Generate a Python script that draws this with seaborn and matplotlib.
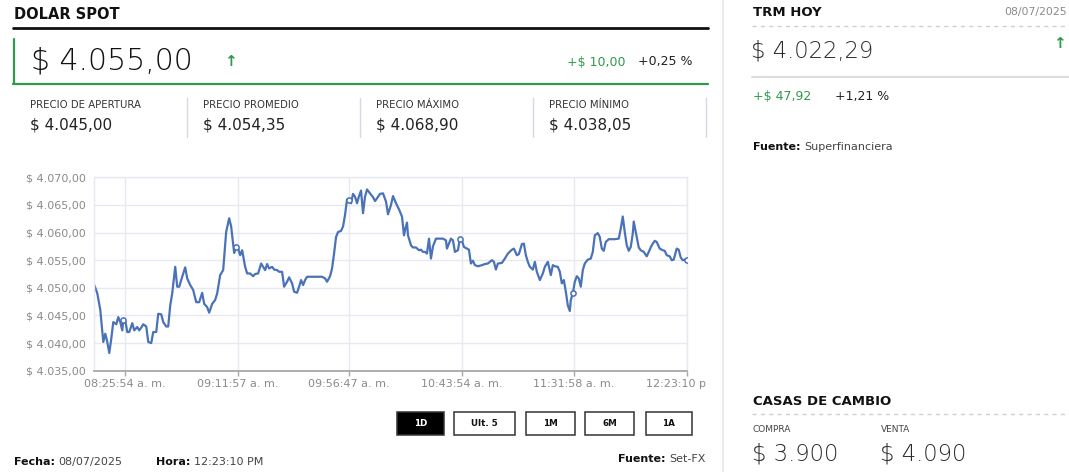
import pandas as pd
import seaborn as sns
import matplotlib
matplotlib.use("Agg")
import matplotlib.pyplot as plt
from matplotlib.lines import Line2D
from matplotlib.patches import Rectangle
from matplotlib.transforms import Bbox, TransformedBbox

# serie intradia del dolar spot (indice de punto, precio)
indice = [0, 3, 6, 9, 11, 13, 15, 17, 19, 22, 24, 26, 28, 29, 31, 33, 35, 38, 40, 43,
          45, 47, 49, 52, 54, 57, 59, 62, 64, 67, 69, 72, 74, 76, 78, 81, 83, 85, 88, 91,
          93, 96, 99, 102, 105, 108, 110, 113, 115, 118, 121, 123, 126, 129, 132, 135, 137, 140, 142, 144,
          146, 148, 151, 153, 156, 159, 161, 164, 167, 169, 171, 173, 175, 178, 180, 183, 185, 188, 190, 193,
          195, 198, 200, 203, 205, 207, 209, 211, 213, 218, 223, 228, 231, 233, 236, 238, 240, 242, 244, 247,
          249, 251, 253, 255, 257, 259, 261, 263, 265, 267, 269, 271, 273, 276, 279, 281, 283, 286, 289, 292,
          294, 297, 299, 302, 305, 308, 310, 311, 313, 314, 317, 319, 322, 325, 327, 329, 331, 333, 335, 337,
          339, 342, 346, 349, 352, 353, 355, 357, 359, 361, 364, 366, 368, 370, 373, 375, 377, 379, 381, 384,
          388, 391, 394, 398, 400, 402, 404, 408, 411, 414, 418, 420, 423, 425, 428, 430, 432, 434, 436, 439,
          441, 443, 446, 449, 451, 454, 457, 459, 461, 464, 466, 468, 470, 472, 474, 476, 477, 479, 481, 483,
          485, 487, 489, 491, 494, 497, 499, 501, 504, 506, 508, 510, 512, 515, 518, 521, 525, 527, 529, 531,
          533, 535, 537, 539, 540, 543, 545, 547, 550, 553, 555, 558, 561, 563, 566, 569, 571, 573, 576, 578,
          580, 583, 585, 587, 589, 591, 593]
precio = [4050.5, 4049.0, 4046.0, 4040.2, 4041.7, 4040.2, 4038.2, 4040.8, 4043.8, 4043.4,
          4044.7, 4043.8, 4042.3, 4044.1, 4044.1, 4042.0, 4042.0, 4043.6, 4042.3, 4042.9,
          4042.3, 4042.8, 4043.4, 4043.0, 4040.2, 4040.0, 4042.0, 4042.0, 4045.3, 4045.2,
          4043.8, 4043.0, 4043.0, 4046.8, 4049.0, 4053.8, 4050.2, 4050.2, 4052.0, 4053.7,
          4051.7, 4050.5, 4049.6, 4047.4, 4047.4, 4049.1, 4047.1, 4046.5, 4045.5, 4047.1,
          4047.8, 4049.0, 4052.3, 4053.2, 4060.1, 4062.6, 4061.1, 4056.3, 4057.3, 4057.1,
          4055.9, 4056.8, 4053.8, 4052.6, 4052.6, 4052.1, 4052.5, 4052.6, 4054.4, 4053.8,
          4053.2, 4054.3, 4053.5, 4053.8, 4053.3, 4053.2, 4052.9, 4052.9, 4050.2, 4051.1,
          4051.9, 4050.8, 4049.3, 4049.1, 4050.2, 4051.4, 4050.5, 4051.4, 4052.0, 4052.0,
          4052.0, 4052.0, 4051.7, 4051.1, 4052.1, 4053.5, 4056.2, 4059.2, 4060.1, 4060.3,
          4061.1, 4063.2, 4066.0, 4065.9, 4065.3, 4067.0, 4066.5, 4065.3, 4066.6, 4067.6,
          4063.5, 4066.5, 4067.8, 4067.1, 4066.4, 4065.7, 4066.2, 4067.0, 4067.1, 4065.6,
          4063.3, 4065.0, 4066.6, 4065.3, 4064.2, 4062.9, 4059.5, 4060.4, 4061.8, 4059.5,
          4057.7, 4057.3, 4057.3, 4056.8, 4056.9, 4056.5, 4056.5, 4056.2, 4058.9, 4055.3,
          4057.5, 4058.9, 4058.9, 4058.9, 4058.6, 4057.1, 4058.0, 4058.9, 4058.6, 4056.5,
          4056.8, 4058.9, 4058.6, 4057.4, 4057.1, 4056.9, 4054.4, 4054.9, 4054.1, 4053.9,
          4054.1, 4054.3, 4054.4, 4055.0, 4054.7, 4053.3, 4054.4, 4054.5, 4055.3, 4056.2,
          4056.9, 4057.1, 4055.9, 4056.1, 4057.9, 4058.0, 4055.9, 4054.7, 4053.8, 4053.3,
          4054.7, 4052.9, 4051.4, 4052.6, 4053.8, 4054.7, 4052.3, 4054.1, 4053.9, 4053.8,
          4052.9, 4050.8, 4051.4, 4049.3, 4046.8, 4045.8, 4047.8, 4049.0, 4051.1, 4052.1,
          4051.7, 4050.2, 4053.2, 4054.4, 4055.1, 4055.3, 4056.5, 4059.5, 4059.9, 4059.2,
          4057.1, 4056.7, 4058.3, 4058.8, 4058.8, 4058.8, 4058.9, 4060.7, 4062.9, 4060.1,
          4057.7, 4056.7, 4057.4, 4059.8, 4062.0, 4059.2, 4057.3, 4056.8, 4056.5, 4055.7,
          4056.5, 4057.7, 4058.5, 4058.3, 4057.1, 4056.8, 4056.7, 4055.9, 4055.7, 4055.0,
          4055.1, 4057.1, 4056.9, 4055.5, 4055.0, 4055.1, 4055.0]

marcadores = [29, 142, 255, 366, 479, 593]
tick_pos = [31, 144, 255, 368, 480, 593]
tick_labels = ["08:25:54 a. m.", "09:11:57 a. m.", "09:56:47 a. m.",
               "10:43:54 a. m.", "11:31:58 a. m.", "12:23:10 p. m."]
y_ticks = [4035, 4040, 4045, 4050, 4055, 4060, 4065, 4070]

resumen_titulos = ["PRECIO DE APERTURA", "PRECIO PROMEDIO", "PRECIO MÁXIMO", "PRECIO MÍNIMO"]
resumen_valores = ["$ 4.045,00", "$ 4.054,35", "$ 4.068,90", "$ 4.038,05"]
botones = ["1D", "Ult. 5", "1M", "6M", "1A"]

df = pd.DataFrame({"indice": indice, "precio": precio})

W, H = 1069, 472
VERDE = "#2f9a4a"
AZUL = "#4a72b8"
OSCURO = "#222222"

sns.set_theme(style="white")
plt.rcParams["font.family"] = ["DejaVu Sans"]

fig = plt.figure(figsize=(W / 100, H / 100), dpi=100)
fig.patch.set_facecolor("white")


def fx(x):
    return x / W


def fy(y):
    return 1 - y / H


def txt(x, y, s, **kw):
    kw.setdefault("va", "center")
    return fig.text(fx(x), fy(y), s, **kw)


def hline(x0, x1, y, **kw):
    fig.add_artist(Line2D([fx(x0), fx(x1)], [fy(y), fy(y)], transform=fig.transFigure, **kw))


def vline(x, y0, y1, **kw):
    fig.add_artist(Line2D([fx(x), fx(x)], [fy(y0), fy(y1)], transform=fig.transFigure, **kw))


def par(x, y, a, b, size, color_b="#444444", gap=4):
    t = txt(x, y, a, fontsize=size, fontweight="bold", color="#111111")
    bb = t.get_window_extent(renderer=fig.canvas.get_renderer())
    txt(bb.x1 + gap, y, b, fontsize=size, color=color_b)


# ---- encabezado dolar spot
txt(13.5, 14.5, "DOLAR SPOT", fontsize=10.5, fontweight="bold", color="#111111")
hline(13, 708, 27.5, color="#111111", lw=2)
vline(14, 39, 84, color=VERDE, lw=1.6)
hline(13, 708, 83.6, color=VERDE, lw=1.6)
txt(31, 61.5, "$ 4.055,00", fontsize=21.5, fontweight="light", color="#111111")
txt(230.5, 61, "↑", fontsize=11, fontweight="bold", color=VERDE, ha="center")
txt(567, 62, "+$ 10,00", fontsize=9, color=VERDE)
txt(692, 62, "+0,25 %", fontsize=9, color=OSCURO, ha="right")

for i, (t, v) in enumerate(zip(resumen_titulos, resumen_valores)):
    x0 = 30 + i * 173
    txt(x0, 105, t, fontsize=7.3, color="#333333")
    txt(x0, 125.5, v, fontsize=11, color=OSCURO)
    vline(x0 + 156.5, 98, 137, color="#d6d9e3", lw=1)

# ---- grafico
ax = fig.add_axes([fx(94.3), fy(370.7), (686.7 - 94.3) / W, (370.7 - 177.3) / H])
sns.lineplot(data=df, x="indice", y="precio", ax=ax, color=AZUL, linewidth=1.6,
             estimator=None, sort=True)
sns.scatterplot(data=df[df["indice"].isin(marcadores)], x="indice", y="precio", ax=ax,
                s=14, facecolor="white", edgecolor=AZUL, linewidth=1.1, zorder=3)
ax.set_xlim(0, 593)
ax.set_ylim(4035, 4070)
ax.set_xticks(tick_pos)
ax.set_xticklabels(tick_labels)
ax.set_yticks(y_ticks)
ax.set_yticklabels(["$ " + f"{v:,.2f}".replace(",", "X").replace(".", ",").replace("X", ".")
                    for v in y_ticks])
ax.set_xlabel("")
ax.set_ylabel("")
ax.grid(True, color="#e6e9f1", lw=1)
ax.set_axisbelow(True)
for s in ["left", "top", "right"]:
    ax.spines[s].set_color("#e6e9f1")
    ax.spines[s].set_linewidth(1)
ax.spines["bottom"].set_color("#a8a8a8")
ax.spines["bottom"].set_linewidth(1.3)
ax.tick_params(axis="x", length=3.8, width=1, color="#a8a8a8", labelsize=8,
               labelcolor="#8a8a8a", pad=2, bottom=True)
ax.tick_params(axis="y", length=0, labelsize=8, labelcolor="#8a8a8a", pad=6)
clip = TransformedBbox(Bbox.from_extents(0, 0, fx(706), 1), fig.transFigure)
for lbl in ax.get_xticklabels():
    lbl.set_clip_box(clip)
    lbl.set_clip_on(True)

# ---- botones de periodo
cajas = [(397, 444), (454, 515), (525.5, 574.5), (585, 634), (645.5, 692)]
for nombre, (x0, x1) in zip(botones, cajas):
    activo = nombre == "1D"
    fig.add_artist(Rectangle((fx(x0), fy(435)), (x1 - x0) / W, 23 / H, transform=fig.transFigure,
                             facecolor="black" if activo else "white", edgecolor="#333333", lw=1.1))
    txt((x0 + x1) / 2, 424, nombre, fontsize=6.3, fontweight="bold",
        color="white" if activo else "#111111", ha="center")

par(13.7, 462, "Fecha:", "08/07/2025", 8)
par(155.6, 462, "Hora:", "12:23:10 PM", 8)
t = txt(706, 459.5, "Set-FX", fontsize=8, color="#444444", ha="right")
bb = t.get_window_extent(renderer=fig.canvas.get_renderer())
txt(bb.x0 - 4, 459.5, "Fuente:", fontsize=8, fontweight="bold", color="#111111", ha="right")

# ---- panel derecho
vline(723, 0, 472, color="#e8e8e8", lw=1.2)
txt(752.7, 12.5, "TRM HOY", fontsize=9.5, fontweight="bold", color="#111111")
txt(1067, 12.5, "08/07/2025", fontsize=7.8, color="#8a8a8a", ha="right")
hline(752, 1069, 25.5, color="#d0d0d0", lw=1, ls=(0, (3, 3)))
txt(751, 51, "$ 4.022,29", fontsize=16.3, fontweight="light", color="#2a2a2a")
txt(1059, 44, "↑", fontsize=11, fontweight="bold", color=VERDE, ha="center")
hline(752, 1069, 77.3, color="#dddddd", lw=1.5)
txt(752.7, 96.7, "+$ 47,92", fontsize=9, color=VERDE)
txt(835, 96.7, "+1,21 %", fontsize=9, color=OSCURO)
par(752.7, 147.2, "Fuente:", "Superfinanciera", 8)

txt(752.7, 401.7, "CASAS DE CAMBIO", fontsize=9.5, fontweight="bold", color="#111111")
hline(752, 1069, 414.3, color="#d0d0d0", lw=1, ls=(0, (3, 3)))
txt(752.7, 429.3, "COMPRA", fontsize=6.5, color="#444444")
txt(880.5, 429.3, "VENTA", fontsize=6.5, color="#444444")
txt(751.5, 454.5, "$ 3.900", fontsize=16.3, fontweight="light", color="#2a2a2a")
txt(879.5, 454.5, "$ 4.090", fontsize=16.3, fontweight="light", color="#2a2a2a")

fig.savefig("out.png", dpi=100, facecolor="white")
